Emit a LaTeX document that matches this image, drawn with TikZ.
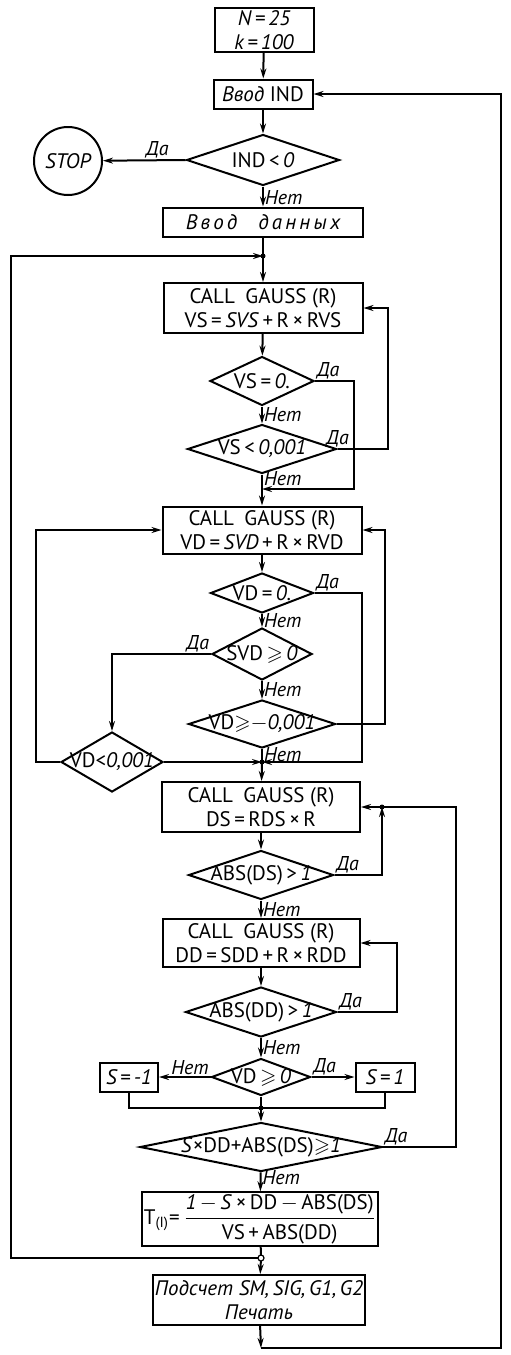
\documentclass[tikz,border=0pt]{standalone}
\usepackage{amsmath}
\usepackage{amssymb}
\usepackage{fontspec}
\setmainfont{PT Sans}
\usetikzlibrary{shapes.geometric,arrows.meta}

% text of a decision, set with no width of its own
\newcommand{\dtxt}[1]{\makebox[0pt]{#1}}
\newcommand{\gsl}{${\geqslant}$}

\begin{document}
\begin{tikzpicture}[x=0.5pt, y=-0.5pt, line width=1pt,
    >={Stealth[length=5pt,width=3pt]},
    every node/.style={font=\fontsize{10.5}{12}\selectfont},
    proc/.style={draw, rectangle, align=center, inner sep=1pt, line width=1pt},
    cond/.style={draw, diamond, aspect=3, inner sep=0pt, line width=1pt},
    lbl/.style={font=\fontsize{10}{11}\selectfont\itshape, inner sep=0.5pt}]
    \useasboundingbox (0,0) rectangle (510,1355);

    % Input
    \node[proc, minimum width=49.5pt, minimum height=20.5pt, font=\fontsize{10.5}{12}\selectfont\itshape] (init) at (264,30) {N\,=\,25\\k\,=\,100};
    \node[proc, minimum width=49.5pt, minimum height=14.5pt] (inp) at (263,94) {\textit{Ввод} IND};
    \node[cond, minimum width=76.5pt, minimum height=25.5pt] (d1) at (263,160) {\dtxt{IND\,<\,\textit{0}}};
    \node[draw, circle, minimum size=34pt, inner sep=0pt, font=\fontsize{10.5}{12}\selectfont\itshape] (stop) at (68,161) {STOP};
    \node[proc, minimum width=100pt, minimum height=14.5pt] (data) at (263,222) {\itshape\addfontfeature{LetterSpace=15}Ввод\quad данных};

    % Junctions
    \coordinate (j1) at (263,256);
    \coordinate (j2) at (262,489);
    \coordinate (j3) at (262,762);
    \coordinate (j4) at (382,807);
    \coordinate (j5) at (261,1108);
    \coordinate (j6) at (261,1258);
    \coordinate (j7) at (261,1348);

    % VS block
    \node[proc, minimum width=99.5pt, minimum height=25pt] (vs) at (263,308) {CALL\enspace GAUSS (R)\\VS\,=\,\textit{SVS}\,+\,R\,×\,RVS};
    \node[cond, minimum width=52pt, minimum height=24.5pt] (d2) at (262,381) {\dtxt{VS\,=\,\textit{0.}}};
    \node[cond, minimum width=74.5pt, minimum height=24.5pt] (d3) at (262,449) {\dtxt{VS\,<\,\textit{0,001}}};

    % VD block
    \node[proc, minimum width=99.5pt, minimum height=23.5pt] (vd) at (262,530) {CALL\enspace GAUSS (R)\\VD\,=\,\textit{SVD}\,+\,R\,×\,RVD};
    \node[cond, minimum width=51.5pt, minimum height=20pt] (d4) at (262,593) {\dtxt{VD\,=\,\textit{0.}}};
    \node[cond, minimum width=50pt, minimum height=26pt] (d5) at (262,654) {\dtxt{SVD\,\gsl\,\textit{0}}};
    \node[cond, minimum width=73.5pt, minimum height=24pt] (d6) at (262,724) {\dtxt{VD\gsl$-$\textit{0,001}}};
    \node[cond, minimum width=51pt, minimum height=30pt] (d7) at (112,762) {\dtxt{VD<\textit{0,001}}};

    % DS and DD blocks
    \node[proc, minimum width=99pt, minimum height=25pt] (ds) at (261,807) {CALL\enspace GAUSS (R)\\DS\,=\,RDS\,×\,R};
    \node[cond, minimum width=72.5pt, minimum height=24.5pt] (d8) at (261,875) {\dtxt{ABS(DS)\,>\,\textit{1}}};
    \node[proc, minimum width=98.5pt, minimum height=24pt] (dd) at (261,943) {CALL\enspace GAUSS (R)\\DD\,=\,SDD\,+\,R\,×\,RDD};
    \node[cond, minimum width=75.5pt, minimum height=25pt] (d9) at (261,1012) {\dtxt{ABS(DD)\,>\,\textit{1}}};

    % Sign
    \node[cond, minimum width=49.5pt, minimum height=18.5pt] (d10) at (261,1077) {\dtxt{VD\,\gsl\,\textit{0}}};
    \node[proc, minimum width=29pt, minimum height=14.5pt, font=\fontsize{10.5}{12}\selectfont\itshape] (sm1) at (129,1077) {S\,=\,-1};
    \node[proc, minimum width=29.5pt, minimum height=14.5pt, font=\fontsize{10.5}{12}\selectfont\itshape] (sp1) at (385,1077) {S\,=\,1};
    \node[cond, minimum width=121pt, minimum height=24.5pt] (d11) at (261,1147) {\dtxt{\textit{S}×DD+ABS(DS)\gsl\textit{1}}};

    % Result and print
    \node[proc, minimum width=98.5pt, minimum height=26pt] (tt) at (260,1219) {T\textsubscript{(I)}=\,$\dfrac{\text{\textit{1}\,$-$\,\textit{S}\,×\,DD\,$-$\,ABS(DS)}}{\text{VS\,+\,ABS(DD)}}$};
    \node[proc, minimum width=97.5pt, minimum height=25pt, font=\fontsize{10.5}{12}\selectfont\itshape] (prn) at (259,1300) {Подсчет SM,\,SIG,\,G1,\,G2\\Печать};

    % Connectors
    \draw[->] (init) -- (inp);
    \draw[->] (inp) -- (d1);
    \draw[->] (d1.west) -- node[lbl, above, pos=0.34] (y1) {Да} (stop);
    \draw[->] (d1) -- node[lbl, right, pos=0.55] (n1) {Нет} (data);
    \draw (data) -- (j1);
    \draw[->] (j1) -- (vs);
    \draw[->] (vs) -- (d2);
    \draw[->] (d2) -- node[lbl, right] (n2) {Нет} (d3);
    \draw (d3) -- node[lbl, right, pos=0.3] (n3) {Нет} (j2);
    \draw[->] (d2.east) node[lbl, above right] (y2) {Да} -- ++(39,0) |- (j2);
    \draw[->] (d3.east) node[lbl, above] (y3) {Да} -- ++(50,0) |- (vs.east);
    \draw[->] (j2) -- (vd);
    \draw[->] (vd) -- (d4);
    \draw[->] (d4) -- node[lbl, right] (n4) {Нет} (d5);
    \draw[->] (d5) -- node[lbl, right] (n5) {Нет} (d6);
    \draw (d6) -- node[lbl, right, pos=0.4] (n6) {Нет} (j3);
    \draw[->] (d4.east) node[lbl, above right] (y4) {Да} -- ++(47,0) |- (j3);
    \draw[->] (d5.west) node[lbl, above left] (y5) {Да} -| (d7);
    \draw[->] (d6.east) -- ++(48,0) |- (vd.east);
    \draw[->] (d7) -- (j3);
    \draw[->] (d7.west) -- ++(-24,0) |- (vd.west);
    \draw[->] (j3) -- (ds);
    \draw[->] (ds) -- (d8);
    \draw[->] (d8) -- node[lbl, right] (n8) {Нет} (dd);
    \draw[->] (d8.east) node[lbl, above right] (y8) {Да} -| (j4);
    \draw[->] (j4) -- (ds.east);
    \draw[->] (dd) -- (d9);
    \draw[->] (d9.east) node[lbl, above right] (y9) {Да} -- ++(59.5,0) |- (dd.east);
    \draw[->] (d9) -- node[lbl, right] (n9) {Нет} (d10);
    \draw[->] (d10) -- node[lbl, above, pos=0.4] (n10) {Нет} (sm1);
    \draw[->] (d10.east) node[lbl, above right] (y10) {Да} -- (sp1);
    \draw (sm1) |- (j5);
    \draw (sp1) |- (j5);
    \draw (d10) -- (j5);
    \draw[->] (j5) -- (d11);
    \draw (d11.east) node[lbl, above right] (y11) {Да} -- ++(73,0) |- (j4);
    \draw[->] (d11) -- node[lbl, right, pos=0.3] (n11) {Нет} (tt);
    \draw (tt) -- (j6);
    \draw[->] (j6) -- (prn);
    \draw[->] (j6) -- ++(-250,0) |- (j1);
    \draw[->] (prn) -- (j7);
    \draw[->] (j7) -- ++(240,0) |- (inp.east);

    % Junction points
    \fill (j1) circle (2.5);
    \fill (j3) circle (2.5);
    \fill (j4) circle (2.5);
    \fill (j5) circle (2.5);
    \draw[fill=white, line width=0.6pt] (j6) circle (3);
\end{tikzpicture}
\end{document}
